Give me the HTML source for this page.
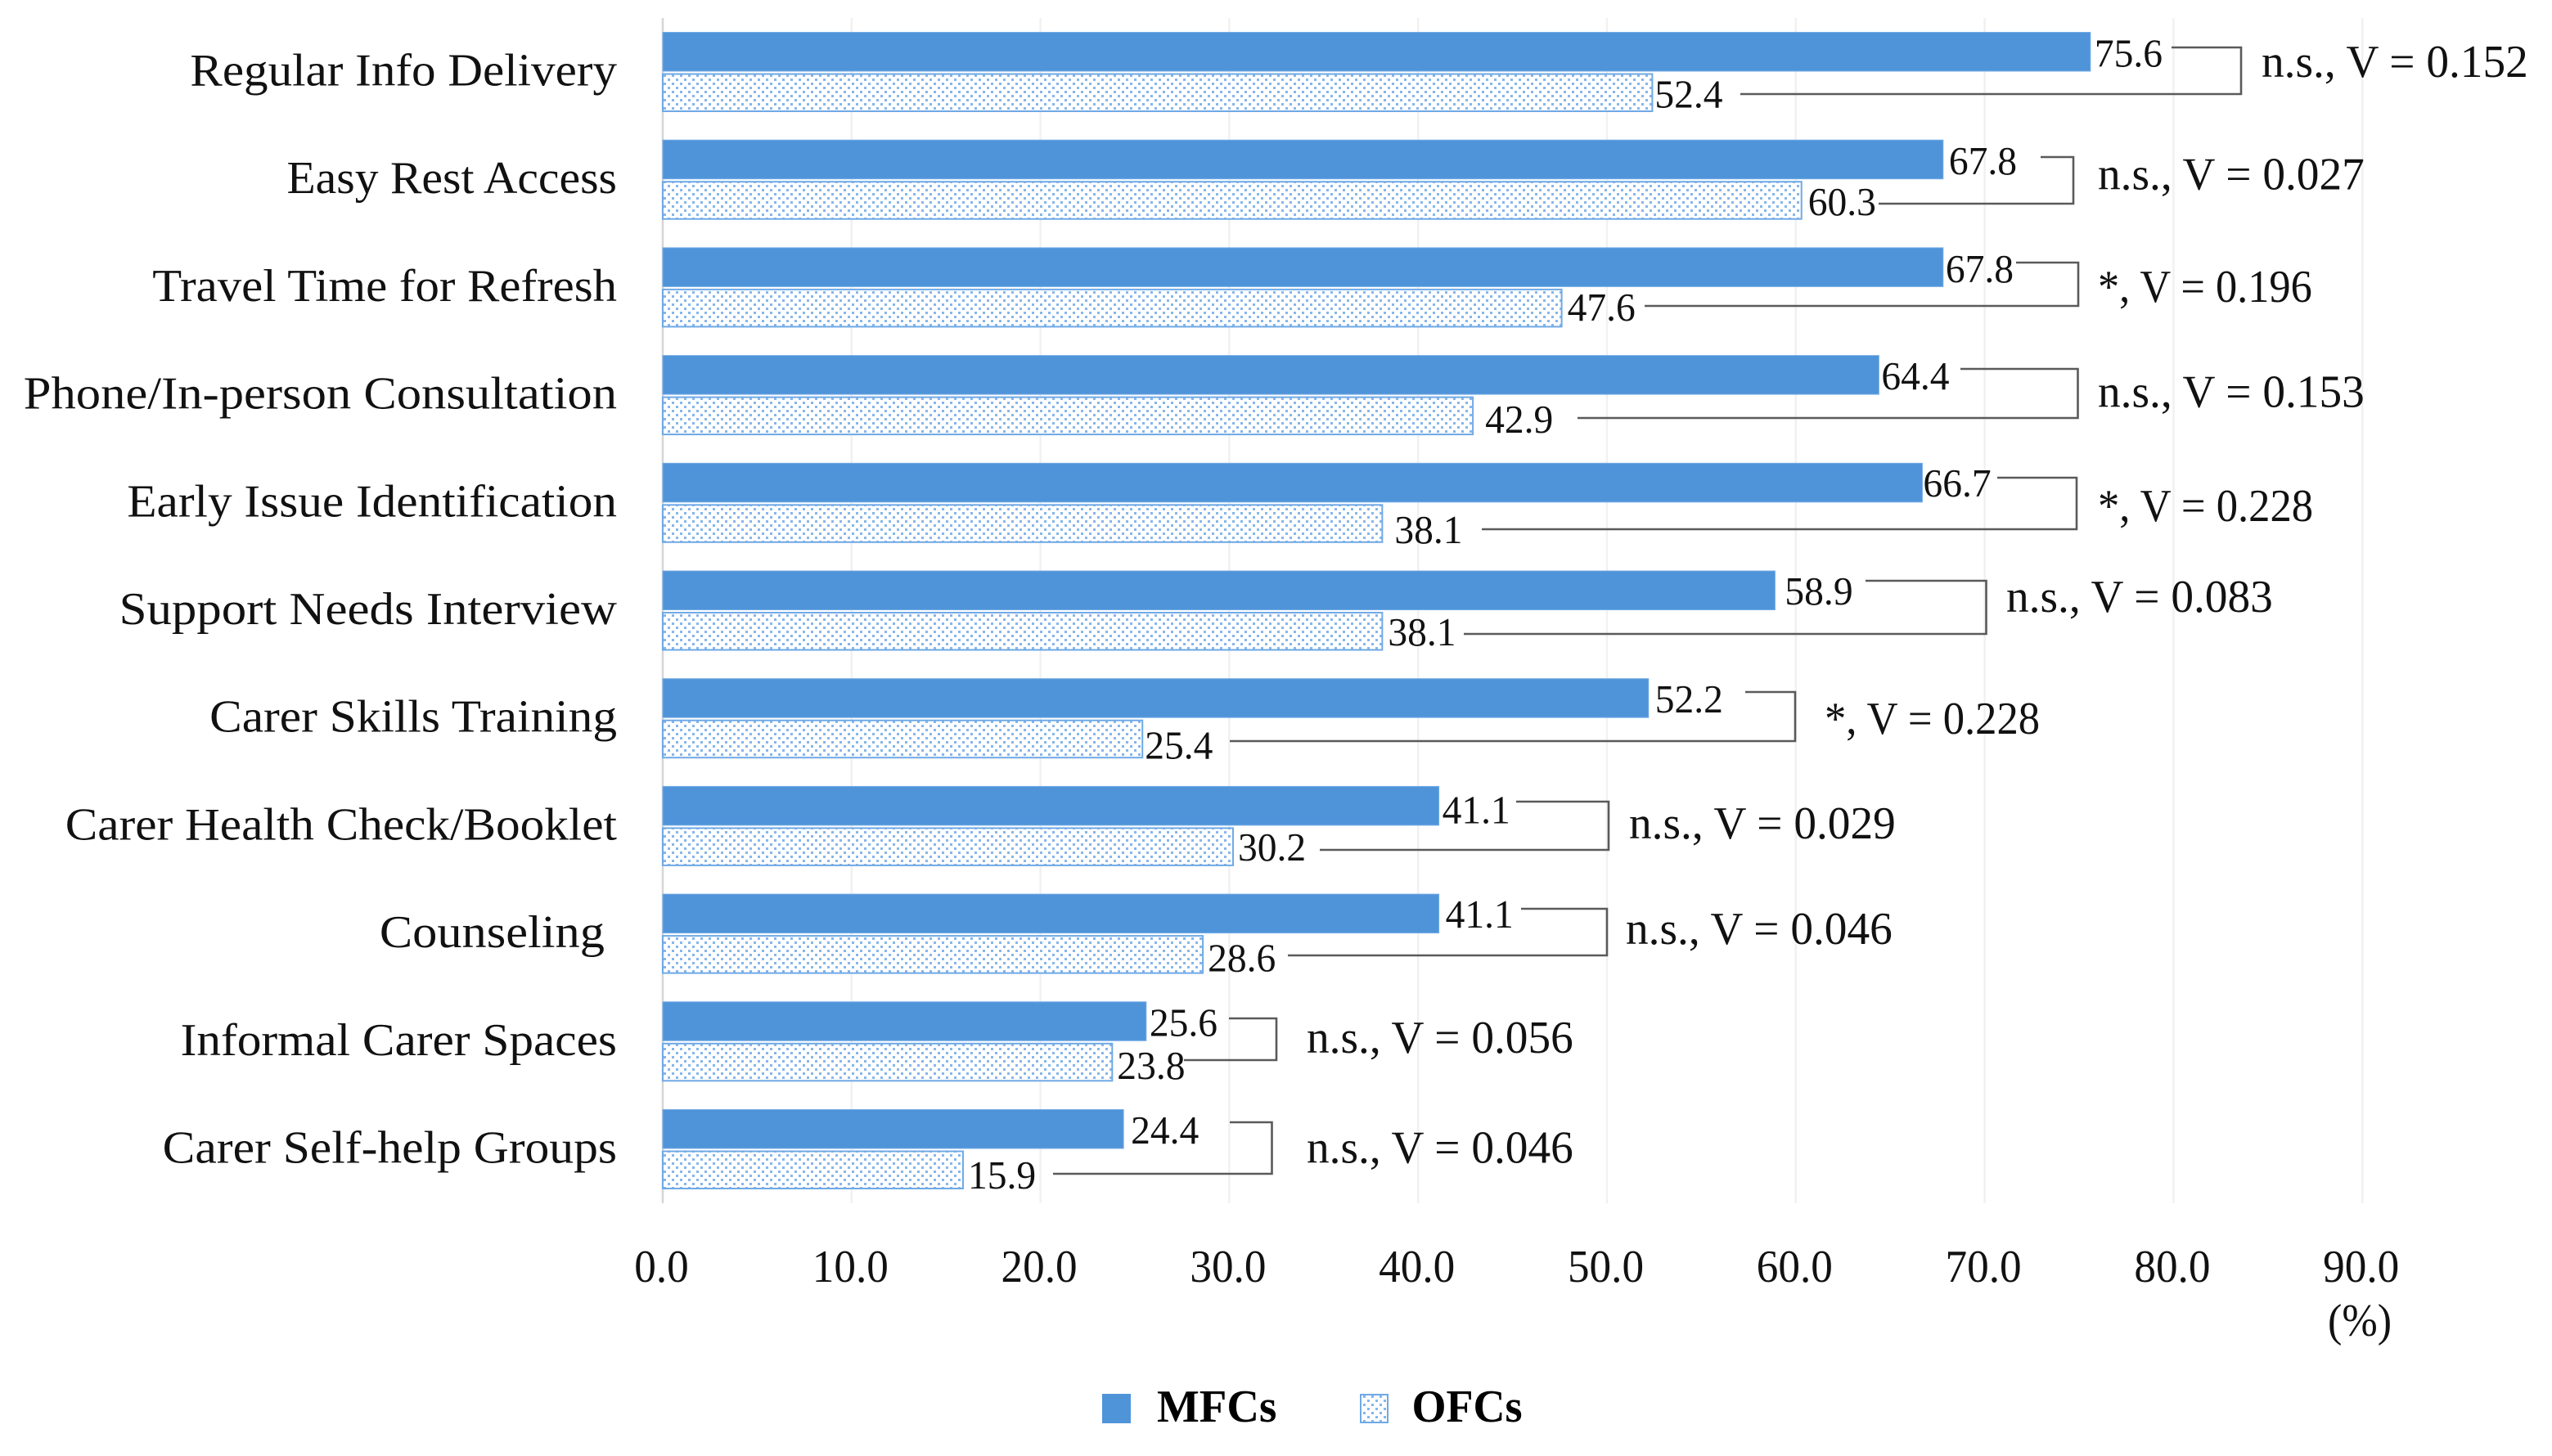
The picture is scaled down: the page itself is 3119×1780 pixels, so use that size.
<!DOCTYPE html>
<html lang="en">
<head>
<meta charset="utf-8">
<title>MFCs vs OFCs support services</title>
<style>
  html, body { margin: 0; padding: 0; background: #fff; }
  #chart { display: block; }
  text { font-family: "Liberation Serif", "DejaVu Serif", serif; fill: #111; }
  .cat { font-size: 56px; }
  .tick { font-size: 56px; }
  .val { font-size: 49px; }
  .stat { font-size: 56px; }
  .leg { font-size: 56px; font-weight: bold; fill: #000; }
  .br { fill: none; stroke: #5a5a5a; stroke-width: 2.6; }
</style>
</head>
<body>
<svg id="chart" xmlns="http://www.w3.org/2000/svg" width="3119" height="1780" viewBox="0 0 3119 1780">
  <defs>
    <pattern id="dots" patternUnits="userSpaceOnUse" width="10" height="10">
      <rect width="10" height="10" fill="#ffffff"/>
      <rect x="1" y="1" width="3" height="3" fill="#86b6ea"/>
      <rect x="6" y="6" width="3" height="3" fill="#86b6ea"/>
    </pattern>
  </defs>
  <rect width="3119" height="1780" fill="#ffffff"/>
  <g id="grid"></g>
  <g id="bars"></g>
  <g id="labels"></g>
  <g id="cats"></g>
  <g id="ticks"></g>

  <g>
    <path class="br" d="M2654 58H2739V115H2127"/>
    <path class="br" d="M2494 192H2534V249H2296"/>
    <path class="br" d="M2464 321H2540V374H2010"/>
    <path class="br" d="M2396 451H2539.5V511H1928"/>
    <path class="br" d="M2441 584H2538V647H1811"/>
    <path class="br" d="M2280 710H2427.5V775H1789"/>
    <path class="br" d="M2133 846H2194V906H1503"/>
    <path class="br" d="M1853 980H1966V1039H1613"/>
    <path class="br" d="M1859 1111H1964V1168H1574"/>
    <path class="br" d="M1502 1245H1560V1296H1447"/>
    <path class="br" d="M1503 1372H1554.5V1435H1287"/>
  </g>

  <g>
    <text class="stat" transform="translate(2764 94) scale(.988 1)">n.s., V = 0.152</text>
    <text class="stat" transform="translate(2564 231.5) scale(.988 1)">n.s., V = 0.027</text>
    <text class="stat" transform="translate(2564 369) scale(.935 1)">*, V = 0.196</text>
    <text class="stat" transform="translate(2564 497.5) scale(.988 1)">n.s., V = 0.153</text>
    <text class="stat" transform="translate(2564 637) scale(.94 1)">*, V = 0.228</text>
    <text class="stat" transform="translate(2452 748) scale(.988 1)">n.s., V = 0.083</text>
    <text class="stat" transform="translate(2230 897) scale(.94 1)">*, V = 0.228</text>
    <text class="stat" transform="translate(1991 1025) scale(.988 1)">n.s., V = 0.029</text>
    <text class="stat" transform="translate(1987 1154) scale(.988 1)">n.s., V = 0.046</text>
    <text class="stat" transform="translate(1597 1287) scale(.988 1)">n.s., V = 0.056</text>
    <text class="stat" transform="translate(1597 1421.5) scale(.988 1)">n.s., V = 0.046</text>
  </g>

  <text class="tick" text-anchor="middle" transform="translate(2884 1633) scale(.93 1)">(%)</text>

  <g>
    <g>
      <rect x="1347" y="1704" width="35" height="36" fill="#4f94d9"/>
      <text class="leg" transform="translate(1414 1738) scale(.98 1)">MFCs</text>
    </g>
    <g>
      <rect x="1663" y="1705" width="33" height="34" fill="url(#dots)" stroke="#6fa9e6" stroke-width="2"/>
      <text class="leg" transform="translate(1725.5 1738) scale(.965 1)">OFCs</text>
    </g>
  </g>
</svg>

<script>
// ---- chart data ----
const categories = [
  'Regular Info Delivery', 'Easy Rest Access', 'Travel Time for Refresh',
  'Phone/In-person Consultation', 'Early Issue Identification', 'Support Needs Interview',
  'Carer Skills Training', 'Carer Health Check/Booklet', 'Counseling\u00a0',
  'Informal Carer Spaces', 'Carer Self-help Groups'
];
const mfcValues = [75.6, 67.8, 67.8, 64.4, 66.7, 58.9, 52.2, 41.1, 41.1, 25.6, 24.4];
const ofcValues = [52.4, 60.3, 47.6, 42.9, 38.1, 38.1, 25.4, 30.2, 28.6, 23.8, 15.9];
const xTicks = [0, 10, 20, 30, 40, 50, 60, 70, 80, 90];
const xTickLabels = ['0.0', '10.0', '20.0', '30.0', '40.0', '50.0', '60.0', '70.0', '80.0', '90.0'];

// ---- layout: hand-placed label nudges and glyph stretch, as in the source figure ----
const mfcLabelDx = [5, 7, 3, 3, 1, 12, 8, 4, 8, 4, 9];
const ofcLabelDx = [3, 8, 7, 15, 15, 7, 3, 6, 6, 6, 6];
const mfcLabelDy = [42, 41.8, 42.1, 41.4, 40.7, 41, 41.3, 45.3, 40.9, 41.9, 41.5];
const ofcLabelDy = [92, 92, 89, 94.4, 97.7, 91, 98, 90.6, 94.6, 94.2, 96.5];
const catStretch = [1.055, 1.03, 1.05, 1.082, 1.058, 1.087, 1.06, 1.058, 1.078, 1.059, 1.063];

// ---- axis functions ----
const xScale = v => 810 + v * 23.08;
const rowTop = i => 39.5 + i * 131.7;

const NS = 'http://www.w3.org/2000/svg';
const gridG = document.getElementById('grid');
const barsG = document.getElementById('bars');
const labelsG = document.getElementById('labels');
const catsG = document.getElementById('cats');
const ticksG = document.getElementById('ticks');

xTicks.forEach((t, i) => {
  const line = document.createElementNS(NS, 'line');
  
  
  line.setAttribute('x1', xScale(t));
  line.setAttribute('x2', xScale(t));
  line.setAttribute('y1', 22);
  line.setAttribute('y2', 1471);
  line.setAttribute('stroke', t === 0 ? '#d6d6d6' : '#f1f1f1');
  line.setAttribute('stroke-width', 2.5);
  gridG.appendChild(line);

  const label = document.createElementNS(NS, 'text');
  
  
  label.setAttribute('class', 'tick');
  label.setAttribute('text-anchor', 'middle');
  label.setAttribute('transform', 'translate(' + (xScale(t) - 1.5) + ' 1567) scale(.95 1)');
  label.textContent = xTickLabels[i];
  ticksG.appendChild(label);
});

categories.forEach((name, i) => {
  const cat = document.createElementNS(NS, 'text');
  
  
  cat.setAttribute('class', 'cat');
  cat.setAttribute('text-anchor', 'end');
  cat.setAttribute('transform', 'translate(754 ' + (rowTop(i) + 65) + ') scale(' + catStretch[i] + ' 1)');
  cat.textContent = name;
  catsG.appendChild(cat);

  const mfcBar = document.createElementNS(NS, 'rect');
  
  
  mfcBar.setAttribute('x', xScale(0));
  mfcBar.setAttribute('y', rowTop(i));
  mfcBar.setAttribute('width', xScale(mfcValues[i]) - xScale(0));
  mfcBar.setAttribute('height', 47.5);
  mfcBar.setAttribute('fill', '#4f94d9');
  mfcBar.setAttribute('stroke', '#74ace6');
  mfcBar.setAttribute('stroke-width', 1);
  barsG.appendChild(mfcBar);

  const ofcBar = document.createElementNS(NS, 'rect');
  
  
  ofcBar.setAttribute('x', xScale(0));
  ofcBar.setAttribute('y', rowTop(i) + 51);
  ofcBar.setAttribute('width', xScale(ofcValues[i]) - xScale(0));
  ofcBar.setAttribute('height', 45.5);
  ofcBar.setAttribute('fill', 'url(#dots)');
  ofcBar.setAttribute('stroke', '#6fa9e6');
  ofcBar.setAttribute('stroke-width', 2);
  barsG.appendChild(ofcBar);

  const mfcLabel = document.createElementNS(NS, 'text');
  
  
  mfcLabel.setAttribute('class', 'val');
  mfcLabel.setAttribute('transform', 'translate(' + (xScale(mfcValues[i]) + mfcLabelDx[i]) + ' ' + (rowTop(i) + mfcLabelDy[i]) + ') scale(.97 1)');
  mfcLabel.textContent = mfcValues[i].toFixed(1);
  labelsG.appendChild(mfcLabel);

  const ofcLabel = document.createElementNS(NS, 'text');
  
  
  ofcLabel.setAttribute('class', 'val');
  ofcLabel.setAttribute('transform', 'translate(' + (xScale(ofcValues[i]) + ofcLabelDx[i]) + ' ' + (rowTop(i) + ofcLabelDy[i]) + ') scale(.97 1)');
  ofcLabel.textContent = ofcValues[i].toFixed(1);
  labelsG.appendChild(ofcLabel);
});
</script>
</body>
</html>
